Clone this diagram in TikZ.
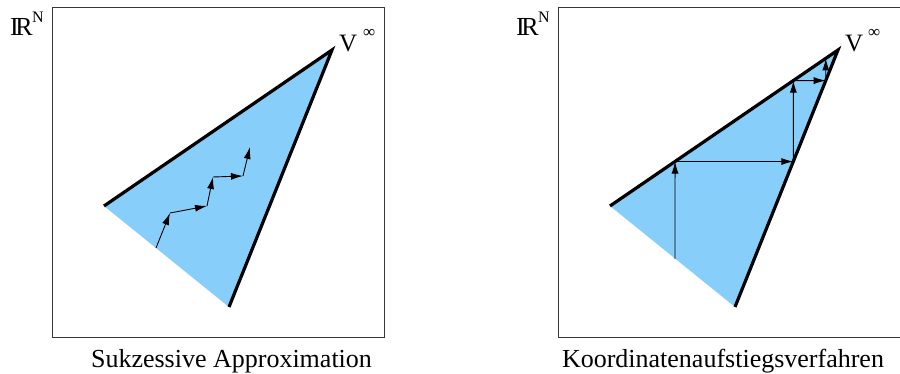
\documentclass[tikz,border=0pt]{standalone}
\usepackage{fontspec}
\setmainfont{Liberation Serif}
\definecolor{coneblue}{RGB}{135,206,250}
\definecolor{framegray}{RGB}{55,55,55}
\usetikzlibrary{arrows.meta,calc}

\tikzset{
  frame/.style={draw=framegray, line width=1pt},
  coneedge/.style={line width=3.2pt},
  iterstep/.style={-{Latex[length=12pt,width=7pt]}, line width=0.9pt},
  spacelabel/.style={inner sep=0pt, anchor=base west, font=\fontsize{26}{26}\selectfont},
  spacesup/.style={inner sep=0pt, anchor=base west, font=\fontsize{16}{16}\selectfont},
  caption/.style={inner sep=0pt, anchor=base, font=\fontsize{26}{26}\selectfont}
}

\begin{document}
\begin{tikzpicture}[x=1pt, y=-1pt]
  \useasboundingbox (0,0) rectangle (900,374);

  % left panel: successive approximation
  \draw[frame] (52,8) rectangle (384,337);
  \node[spacelabel] (rn1) at (10,36) {I\kern-3.5pt R};
  \node[spacesup] (rn1sup) at (rn1.base east) [xshift=-1pt, yshift=13pt] {N};

  \coordinate (L1) at (104,206);
  \coordinate (A1) at (332,50);
  \coordinate (B1) at (229,307);
  \fill[coneblue] (L1) -- (A1) -- (B1) -- cycle;
  \draw[coneedge] (L1) -- (A1) -- (B1);
  \node[inner sep=0pt, anchor=base west, font=\fontsize{25}{25}\selectfont] (v1) at (339,52) {V};
  \node[inner sep=0pt, anchor=base west, font=\fontsize{17}{17}\selectfont] (inf1) at (363,38) {∞};

  \coordinate (z0) at (156,248);
  \coordinate (z1) at (170,213);
  \coordinate (z2) at (207,206);
  \coordinate (z3) at (213,177);
  \coordinate (z4) at (243,176);
  \coordinate (z5) at (250,147);
  \foreach \a/\b in {z0/z1,z1/z2,z2/z3,z3/z4,z4/z5}
    \draw[iterstep] (\a) -- (\b);

  \node[caption] (cap1) at (231.5,367) {Sukzessive Approximation};

  % right panel: coordinate ascent
  \draw[frame] (558,8) rectangle (902,337);
  \node[spacelabel] (rn2) at (516,36) {I\kern-3.5pt R};
  \node[spacesup] (rn2sup) at (rn2.base east) [xshift=-1pt, yshift=13pt] {N};

  \coordinate (L2) at (610,206);
  \coordinate (A2) at (838,50);
  \coordinate (B2) at (735,307);
  \fill[coneblue] (L2) -- (A2) -- (B2) -- cycle;
  \draw[coneedge] (L2) -- (A2) -- (B2);
  \node[inner sep=0pt, anchor=base west, font=\fontsize{25}{25}\selectfont] (v2) at (845,52) {V};
  \node[inner sep=0pt, anchor=base west, font=\fontsize{17}{17}\selectfont] (inf2) at (868,38) {∞};

  \coordinate (c0) at (675,259);
  \coordinate (h0) at (675,0);
  \coordinate (c1) at (intersection of L2--A2 and c0--h0);
  \coordinate (h1) at ($(c1)+(100,0)$);
  \coordinate (c2) at (intersection of A2--B2 and c1--h1);
  \coordinate (h2) at ($(c2)+(0,-100)$);
  \coordinate (c3) at (intersection of L2--A2 and c2--h2);
  \coordinate (h3) at ($(c3)+(100,0)$);
  \coordinate (c4) at (intersection of A2--B2 and c3--h3);
  \coordinate (h4) at ($(c4)+(0,-100)$);
  \coordinate (c5) at (intersection of L2--A2 and c4--h4);
  \foreach \a/\b in {c0/c1,c1/c2,c2/c3,c3/c4,c4/c5}
    \draw[iterstep] (\a) -- (\b);

  \node[caption] (cap2) at (723,367) {Koordinatenaufstiegsverfahren};
\end{tikzpicture}
\end{document}
